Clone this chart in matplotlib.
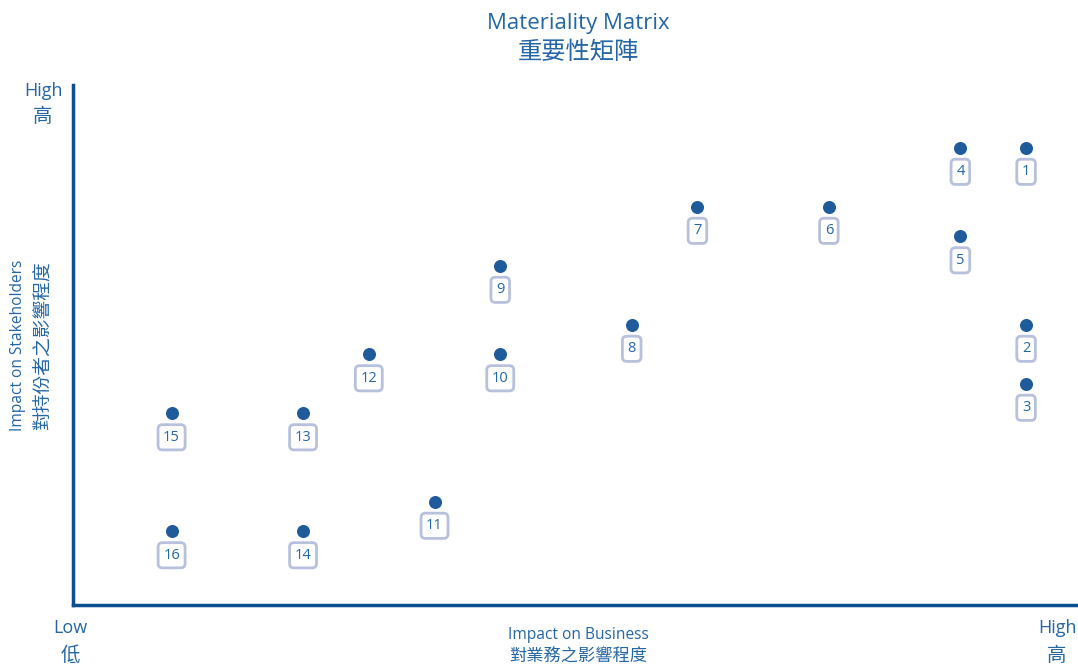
import matplotlib.pyplot as plt

plt.rcParams['font.family'] = ['Open Sans', 'Noto Sans CJK TC', 'DejaVu Sans']

# Issues: impact on business (x) and impact on stakeholders (y)
labels = [1, 2, 3, 4, 5, 6, 7, 8, 9, 10, 11, 12, 13, 14, 15, 16]
business = [14.5, 14.5, 14.5, 13.5, 13.5, 11.5, 9.5, 8.5, 6.5, 6.5, 5.5, 4.5, 3.5, 3.5, 1.5, 1.5]
stakeholders = [15.5, 9.5, 7.5, 15.5, 12.5, 13.5, 13.5, 9.5, 11.5, 8.5, 3.5, 8.5, 6.5, 2.5, 6.5, 2.5]

dark = '#0b4f92'
dot = '#1f5b9a'
txt = '#2466a6'
box = '#b7c0dc'

W, H = 1078, 668
fig = plt.figure(figsize=(W / 100, H / 100), dpi=100)
ax = fig.add_axes([73 / W, 63 / H, 1005 / W, 520 / H])
ax.set_xlim(0, 15.29)
ax.set_ylim(0, 17.63)

# Axes look: only left and bottom spines
for s in ['top', 'right']:
    ax.spines[s].set_visible(False)
for s in ['left', 'bottom']:
    ax.spines[s].set_color(dark)
    ax.spines[s].set_linewidth(2.5)
ax.set_xticks([])
ax.set_yticks([])

# Points and numbered labels underneath
ax.scatter(business, stakeholders, s=70, color=dot, zorder=3)
for lab, x, y in zip(labels, business, stakeholders):
    ax.annotate(str(lab), (x, y), xytext=(0, -24), textcoords='offset pixels',
                ha='center', va='center', fontsize=10.5, color=txt,
                bbox=dict(boxstyle='round,pad=0.35,rounding_size=0.3',
                          fc='white', ec=box, lw=2))


# Text placed by pixel position from the top-left corner
def put(px, py, s, size, rot=0):
    fig.text(px / W, 1 - py / H, s, ha='center', va='center',
             fontsize=size, color=txt, rotation=rot)


put(578, 24, 'Materiality Matrix', 16)
put(578, 53, '重要性矩陣', 17.5)

put(43, 91, 'High', 13)
put(43, 117, '高', 14)
put(70, 628, 'Low', 13)
put(70, 656, '低', 14)
put(1057, 628, 'High', 13)
put(1057, 656, '高', 14)

put(578, 635, 'Impact on Business', 11.2)
put(578, 658, '對業務之影響程度', 12.4)
put(18, 345, 'Impact on Stakeholders', 11.2, rot=90)
put(43, 346, '對持份者之影響程度', 13.5, rot=90)

fig.savefig('out.png', dpi=100)
